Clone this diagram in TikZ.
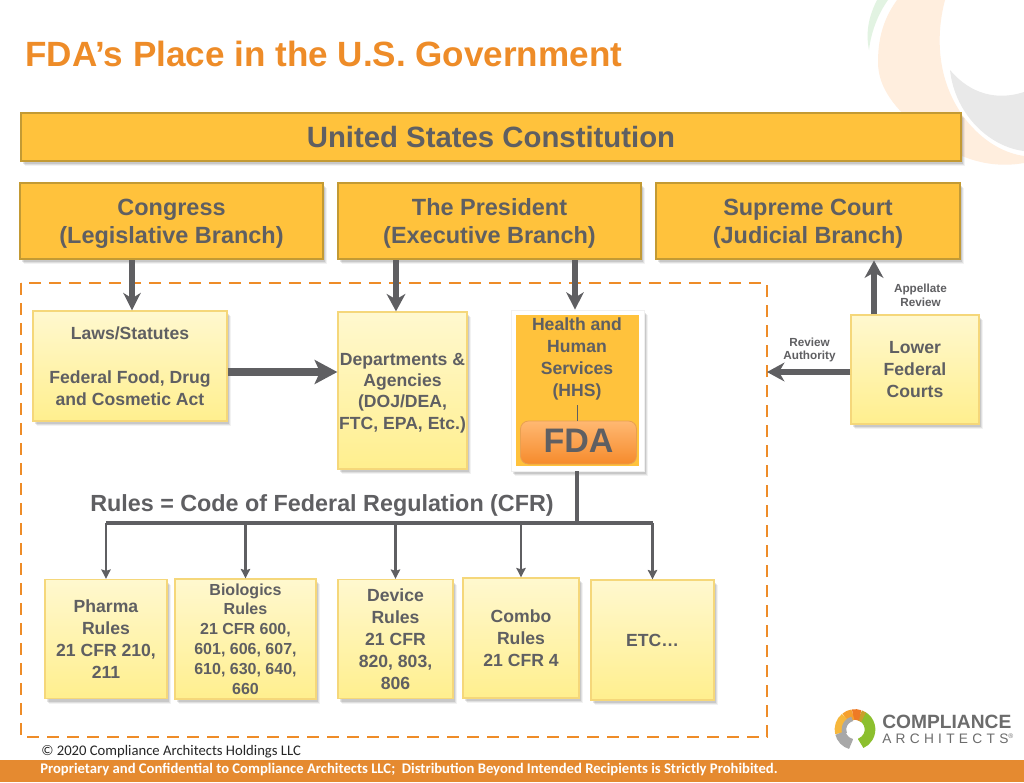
\documentclass[tikz,border=0pt]{standalone}
\usepackage{fontspec}
\setmainfont{Liberation Sans}
\newfontfamily\carl{Carlito}
\usetikzlibrary{arrows.meta,shadows,calc}
\definecolor{ink}{HTML}{5F5F62}
\definecolor{gold}{HTML}{FFC23C}
\definecolor{goldline}{HTML}{C39A34}
\definecolor{orangeT}{HTML}{EE8C28}
\definecolor{barO}{HTML}{E58A30}
\definecolor{creamT}{HTML}{FFF8CF}
\definecolor{creamB}{HTML}{FFEF8E}
\definecolor{creamL}{HTML}{F5D77A}
\definecolor{fdaT}{HTML}{FFB872}
\definecolor{fdaB}{HTML}{F68B2C}
\definecolor{fdaL}{HTML}{E8A050}
\definecolor{lgA}{HTML}{A8A8A8}
\definecolor{lgB}{HTML}{F6B73C}
\definecolor{lgC}{HTML}{F5A02E}
\definecolor{lgD}{HTML}{EE7A26}
\definecolor{lgE}{HTML}{C9A02C}
\definecolor{lgF}{HTML}{8CBF2E}
\newcommand{\fs}[2]{\fontsize{#1}{#2}\selectfont}
\newcommand{\lift}{\rule{0pt}{16.3pt}}
\tikzset{
  softshadow/.style={
    general shadow={shadow xshift=1.5pt,shadow yshift=-2.6pt,fill=black,opacity=.10},
    general shadow={shadow xshift=2.2pt,shadow yshift=-3.3pt,fill=black,opacity=.08},
    general shadow={shadow xshift=3pt,shadow yshift=-4pt,fill=black,opacity=.05}},
  branch/.style={draw=goldline,line width=2.2pt,fill=gold,softshadow,inner sep=0pt,
    text=ink,align=center,font=\bfseries\fs{17.6}{21}},
  cream/.style={draw=creamL,line width=1pt,top color=creamT,bottom color=creamB,softshadow,
    inner sep=0pt,text=ink,align=center,font=\bfseries\fs{13.2}{16.5}},
  thickarrow/.style={draw=ink,line width=5pt,-{Stealth[length=13pt,width=13pt,inset=4pt]}},
  midarrow/.style={draw=ink,line width=4pt,-{Stealth[length=13pt,width=14pt,inset=4pt]}},
  bigarrow/.style={draw=ink,line width=5.5pt,-{Stealth[length=17pt,width=18pt,inset=4pt]}},
  rulearrow/.style={draw=ink,line width=1.9pt,-{Stealth[length=7pt,width=7pt,inset=1pt]}},
  trunk/.style={draw=ink,line width=2.3pt},
  smalllabel/.style={text=ink,align=center,font=\bfseries\fs{8.8}{10.4},inner sep=0pt},
}
\begin{document}
\begin{tikzpicture}[x=0.75pt,y=-0.75pt]
\useasboundingbox (0,0) rectangle (1024,782);
\fill[white] (0,0) rectangle (1024,782);
% watermark
\begin{scope}
\clip (0,0) rectangle (1024,782);
\fill[green!40!gray!16!white] (869,50) .. controls (865,30) and (870,14) .. (877,0) -- (888,0) .. controls (878,14) and (871,32) .. (869,50) -- cycle;
\fill[orange!13!white] (878,62) .. controls (878,32) and (887,14) .. (897,0) -- (945,0) .. controls (937,30) and (936,70) .. (956,105) .. controls (970,130) and (995,152) .. (1024,156) -- (1024,163) .. controls (985,170) and (950,155) .. (920,130) .. controls (895,108) and (878,88) .. (878,62) -- cycle;
\fill[gray!17!white] (950,70) .. controls (965,88) and (990,103) .. (1024,92) -- (1024,151) .. controls (990,147) and (955,115) .. (950,70) -- cycle;
\end{scope}
% title
\node[anchor=west,inner sep=0pt,text=orangeT,font=\bfseries\fs{26.3}{30}] (title) at (25,54) {FDA’s Place in the U.S. Government};
% dashed region
\coordinate (dashNW) at (21,283);
\coordinate (dashSE) at (767,737);
\draw[draw=orangeT,line width=1.9pt,dash pattern=on 9pt off 6pt] (dashNW) rectangle (dashSE);
% branches
\node[branch,font=\bfseries\fs{22}{25},minimum width=705pt,minimum height=36pt] (constitution) at (491,137) {United States Constitution};
\node[branch,minimum width=227.25pt,minimum height=57pt] (congress) at (171.5,221) {\lift Congress\\(Legislative Branch)};
\node[branch,minimum width=227.25pt,minimum height=57pt] (president) at (489.5,221) {\lift The President\\(Executive Branch)};
\node[branch,minimum width=228pt,minimum height=57pt] (supreme) at (808,221) {\lift Supreme Court\\(Judicial Branch)};
% middle row
\node[cream,minimum width=145.5pt,minimum height=82.5pt] (laws) at (130,366) {\rule[-1.5pt]{0pt}{1pt}Laws/Statutes\\[16.5pt]Federal Food, Drug\\and Cosmetic Act};
\node[cream,font=\bfseries\fs{13.2}{16},minimum width=96.75pt,minimum height=117.75pt] (dept) at (402.5,390.5) {\rule{0pt}{12.5pt}Departments \&\\Agencies\\(DOJ/DEA,\\FTC, EPA, Etc.)};
\node[draw=gray!12,line width=.5pt,fill=white,inner sep=0pt,softshadow,minimum width=99.75pt,minimum height=120.75pt] (hhsouter) at (577.5,390.5) {};
\node[fill=gold,inner sep=0pt,minimum width=92.25pt,minimum height=113.25pt] (hhs) at (577.5,390.5) {};
\node[anchor=north,inner sep=0pt,text=ink,align=center,font=\bfseries\fs{13.2}{16.4}] (hhstext) at (577,317.5) {Health and\\Human\\Services\\(HHS)};
\node[draw=fdaL,line width=.6pt,rounded corners=6pt,top color=fdaT,bottom color=fdaB,inner sep=0pt,text=ink,font=\bfseries\fs{25.5}{30},minimum width=87pt,minimum height=32.25pt] (fda) at (578.5,442.5) {\raisebox{2.2pt}{FDA}};
\draw[draw=ink,line width=.7pt] (fda.north -| hhstext.south) -- ++(0,-16);
\node[cream,minimum width=96pt,minimum height=81.75pt] (lower) at (915,369.5) {\rule[-4.8pt]{0pt}{1pt}Lower\\Federal\\Courts};
% bottom row
\node[cream,minimum width=91.5pt,minimum height=89.25pt] (pharma) at (106,639) {Pharma\\Rules\\21 CFR 210,\\211};
\node[cream,font=\bfseries\fs{12}{14.9},minimum width=105.75pt,minimum height=90pt] (bio) at (245.5,639) {Biologics\\Rules\\21 CFR 600,\\601, 606, 607,\\610, 630, 640,\\660};
\node[cream,minimum width=86.25pt,minimum height=89.25pt] (device) at (395.5,639) {Device\\Rules\\21 CFR\\820, 803,\\806};
\node[cream,minimum width=87pt,minimum height=90pt] (combo) at (521,638) {Combo\\Rules\\21 CFR 4};
\node[cream,minimum width=92.25pt,minimum height=90pt] (etc) at (652.5,640) {ETC…};
% rules heading
\node[anchor=west,inner sep=0pt,text=ink,font=\bfseries\fs{17.5}{20}] (rulesT) at (90,505.5) {Rules = Code of Federal Regulation (CFR)};
% arrows
\coordinate (c1) at (132,0);
\coordinate (c2) at (396,0);
\coordinate (c3) at (575,0);
\coordinate (c4) at (874,0);
\coordinate (busY) at (0,523);
\coordinate (dashE) at (767,372);
\coordinate (midY) at (0,372);
\draw[thickarrow] (congress.south -| c1) -- (laws.north -| c1);
\draw[midarrow] (president.south -| c2) -- (dept.north -| c2);
\draw[thickarrow] (president.south -| c3) -- (hhsouter.north -| c3);
\draw[bigarrow] (laws.east |- midY) -- (dept.west |- midY);
\draw[midarrow] (lower.west |- midY) -- (dashE);
\draw[midarrow] (lower.north -| c4) -- (supreme.south -| c4);
\coordinate (tr) at (577,0);
\draw[trunk,line width=2.4pt] (hhsouter.south -| tr) -- (busY -| tr);
\draw[trunk] (pharma.north |- busY) -- (etc.north |- busY);
\draw[rulearrow] (pharma.north |- busY) -- (pharma.north);
\draw[rulearrow] (bio.north |- busY) -- (bio.north);
\draw[rulearrow] (device.north |- busY) -- (device.north);
\draw[rulearrow] (combo.north |- busY) -- (combo.north);
\draw[rulearrow] (etc.north |- busY) -- (etc.north);
% small labels
\node[smalllabel] (appellate) at (920.5,295.5) {Appellate\\Review};
\node[smalllabel] (review) at (809.5,350) {Review\\Authority};
% footer
\fill[barO] (0,760) rectangle (1024,782);
\node[anchor=west,inner sep=0pt,text=black!85,font=\carl\fs{11}{12}] (copy) at (41,751.5) {© 2020 Compliance Architects Holdings LLC};
\node[anchor=west,inner sep=0pt,text=white,font=\carl\bfseries\fs{11}{12}] (prop) at (40,769.5) {Proprietary and Confidential to Compliance Architects LLC;\ \ Distribution Beyond Intended Recipients is Strictly Prohibited.};
\node[anchor=base,inner sep=0pt,text=gray,font=\fs{9}{10}] (pg) at (-3,742) {8};
% logo
\begin{scope}[shift={(855,729.5)},yscale=-1]
  \draw[line width=8pt,color=lgF] (60:15) arc[start angle=60,end angle=-68,radius=15];
  \draw[line width=8pt,color=lgE] (72:15) arc[start angle=72,end angle=55,radius=15];
  \draw[line width=8pt,color=lgD] (100:15) arc[start angle=100,end angle=70,radius=15];
  \draw[line width=8pt,color=lgC] (130:15) arc[start angle=130,end angle=98,radius=15];
  \draw[line width=8pt,color=lgB] (195:15) arc[start angle=195,end angle=128,radius=15];
  \draw[line width=8pt,color=lgA] (255:15) arc[start angle=255,end angle=193,radius=15];
  \draw[line width=3.5pt,color=lgA] (200:11) arc[start angle=200,end angle=105,radius=11];
  \fill[white] (-2.5,-12) rectangle (2.5,-3);
\end{scope}
\node[anchor=west,inner sep=0pt,text=gray!85!black,font=\bfseries\fs{14.4}{16}] (logoA) at (882,722) {COMPLIANCE};
\node[anchor=west,inner sep=0pt,text=gray!85!black,font=\fs{10.3}{12}] (logoB) at (882,738.5) {A\hspace{3.2pt}R\hspace{3.2pt}C\hspace{3.2pt}H\hspace{3.2pt}I\hspace{3.2pt}T\hspace{3.2pt}E\hspace{3.2pt}C\hspace{3.2pt}T\hspace{3.2pt}S\textsuperscript{\tiny®}};
\end{tikzpicture}
\end{document}
